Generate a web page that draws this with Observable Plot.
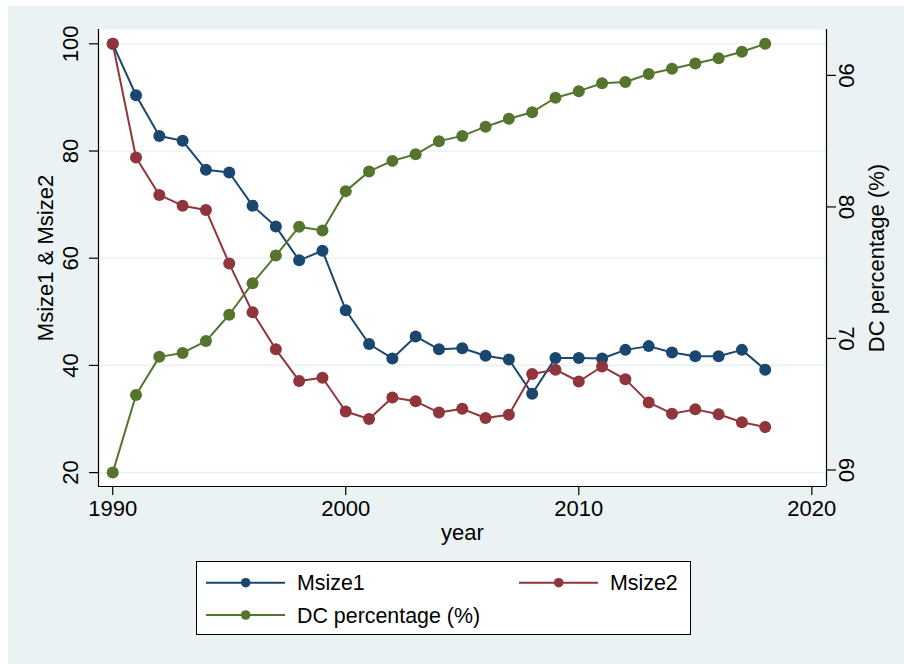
<!DOCTYPE html>
<html><head><meta charset="utf-8">
<script src="https://cdn.jsdelivr.net/npm/d3@7"></script>
<script src="https://cdn.jsdelivr.net/npm/@observablehq/plot@0.6"></script>
<style>
body{margin:0;background:#fff;}
#fig{position:relative;width:904px;height:664px;overflow:hidden;font-family:"Liberation Sans",Arial,sans-serif;}
#bg{position:absolute;left:8px;top:6px;right:0;bottom:0;background:#eaf2f3;}
#chart{position:absolute;left:0;top:0;}
#legend{position:absolute;left:196px;top:561px;width:493px;height:72px;background:#fff;border:1px solid #000;}
#legend svg{display:block;}
</style></head><body>
<div id="fig"><div id="bg"></div><div id="chart"></div><div id="legend"></div></div>
<script>
const years = [1990,1991,1992,1993,1994,1995,1996,1997,1998,1999,2000,2001,2002,2003,2004,2005,2006,2007,2008,2009,2010,2011,2012,2013,2014,2015,2016,2017,2018];
const msize1 = [100,90.4,82.8,81.9,76.5,76.0,69.8,65.9,59.6,61.4,50.3,44.0,41.3,45.4,43.0,43.2,41.8,41.1,34.7,41.4,41.4,41.3,42.9,43.6,42.4,41.7,41.7,42.9,39.2];
const msize2 = [100,78.8,71.8,69.8,69.0,59.0,49.9,43.0,37.1,37.7,31.4,30.0,34.0,33.3,31.2,31.9,30.2,30.8,38.4,39.2,37.0,39.8,37.4,33.1,31.0,31.8,30.9,29.4,28.5];
const dcPct = [59.8,65.7,68.6,68.9,69.8,71.8,74.2,76.3,78.5,78.2,81.2,82.7,83.5,84.0,85.0,85.4,86.1,86.7,87.2,88.3,88.8,89.4,89.5,90.1,90.5,90.9,91.3,91.8,92.4];
const xTicks = [1990,2000,2010,2020];
const leftTicks = [20,40,60,80,100];
const rightTicks = [60,70,80,90];
const seriesNames = ["Msize1","Msize2","DC percentage (%)"];
const colors = ["#1a476f","#90353b","#55752f"];

// right axis (DC) mapped onto left scale range [20,100], as Stata's second y axis
const rMin = d3.min(dcPct), rMax = d3.max(dcPct);
const toLeft = r => 20 + (r - rMin) * 80 / (rMax - rMin);
const fromLeft = l => rMin + (l - 20) * (rMax - rMin) / 80;

const rows = years.map((year, i) => ({year, m1: msize1[i], m2: msize2[i], dc: toLeft(dcPct[i])}));
const xDomain = [1989.39, 2020.63];
const yDomain = [17.41, 102.67];

const series = [["m1", 0], ["m2", 1], ["dc", 2]];
const dataMarks = series.flatMap(([k, i]) => [
  Plot.line(rows, {x: "year", y: k, stroke: colors[i], strokeWidth: 2}),
  Plot.dot(rows, {x: "year", y: k, fill: colors[i], r: 6, stroke: "none"})
]);

const plot = Plot.plot({
  width: 904, height: 560,
  marginLeft: 98, marginRight: 78, marginTop: 29, marginBottom: 74,
  x: {domain: xDomain},
  y: {domain: yDomain},
  style: {background: "transparent", fontFamily: "'Liberation Sans', Arial, sans-serif", fontSize: "22px", color: "#000", overflow: "visible"},
  marks: [
    Plot.frame({fill: "white", stroke: "none"}),
    Plot.gridY(leftTicks, {stroke: "#eaf2f3", strokeOpacity: 1, strokeWidth: 1.6}),
    Plot.ruleX([xDomain[0], xDomain[1]], {stroke: "#000", strokeWidth: 1.2}),
    Plot.ruleY([yDomain[0]], {stroke: "#000", strokeWidth: 1.2}),
    Plot.axisX({ticks: xTicks, tickFormat: d => String(d), tickSize: 9, tickPadding: 5, label: null, strokeWidth: 1.2}),
    Plot.axisY({anchor: "left", ticks: leftTicks, tickFormat: d => String(d), tickSize: 9, tickPadding: 12, tickRotate: -90, textAnchor: "middle", lineAnchor: "bottom", label: null, strokeWidth: 1.2}),
    Plot.axisY({anchor: "right", ticks: rightTicks.map(toLeft), tickFormat: d => String(Math.round(fromLeft(d))), tickSize: 9, tickPadding: 3, tickRotate: 90, textAnchor: "middle", lineAnchor: "bottom", label: null, strokeWidth: 1.2}),
    ...dataMarks,
    Plot.text(["Msize1 & Msize2"], {text: d => d, frameAnchor: "left", textAnchor: "middle", dx: -53, rotate: -90}),
    Plot.text(["DC percentage (%)"], {text: d => d, frameAnchor: "right", textAnchor: "middle", dx: 50, rotate: -90}),
    Plot.text(["year"], {text: d => d, frameAnchor: "bottom", textAnchor: "middle", dy: 53})
  ]
});
document.getElementById("chart").appendChild(plot);

// legend
const lg = d3.select("#legend").append("svg").attr("width", 493).attr("height", 72)
  .style("font-family", "'Liberation Sans', Arial, sans-serif").style("font-size", "21.4px");
const items = [
  {name: seriesNames[0], color: colors[0], x: 9, y: 20.7},
  {name: seriesNames[1], color: colors[1], x: 322, y: 20.7},
  {name: seriesNames[2], color: colors[2], x: 9, y: 53}
];
items.forEach(it => {
  const g = lg.append("g").attr("transform", `translate(${it.x},${it.y})`);
  g.append("line").attr("x1", 0).attr("x2", 79).attr("y1", 0).attr("y2", 0).attr("stroke", it.color).attr("stroke-width", 2);
  g.append("circle").attr("cx", 39.7).attr("cy", 0).attr("r", 4.8).attr("fill", it.color);
  g.append("text").attr("x", 91).attr("y", 0).attr("dy", "0.35em").attr("fill", "#000").text(it.name);
});
</script>
</body></html>
